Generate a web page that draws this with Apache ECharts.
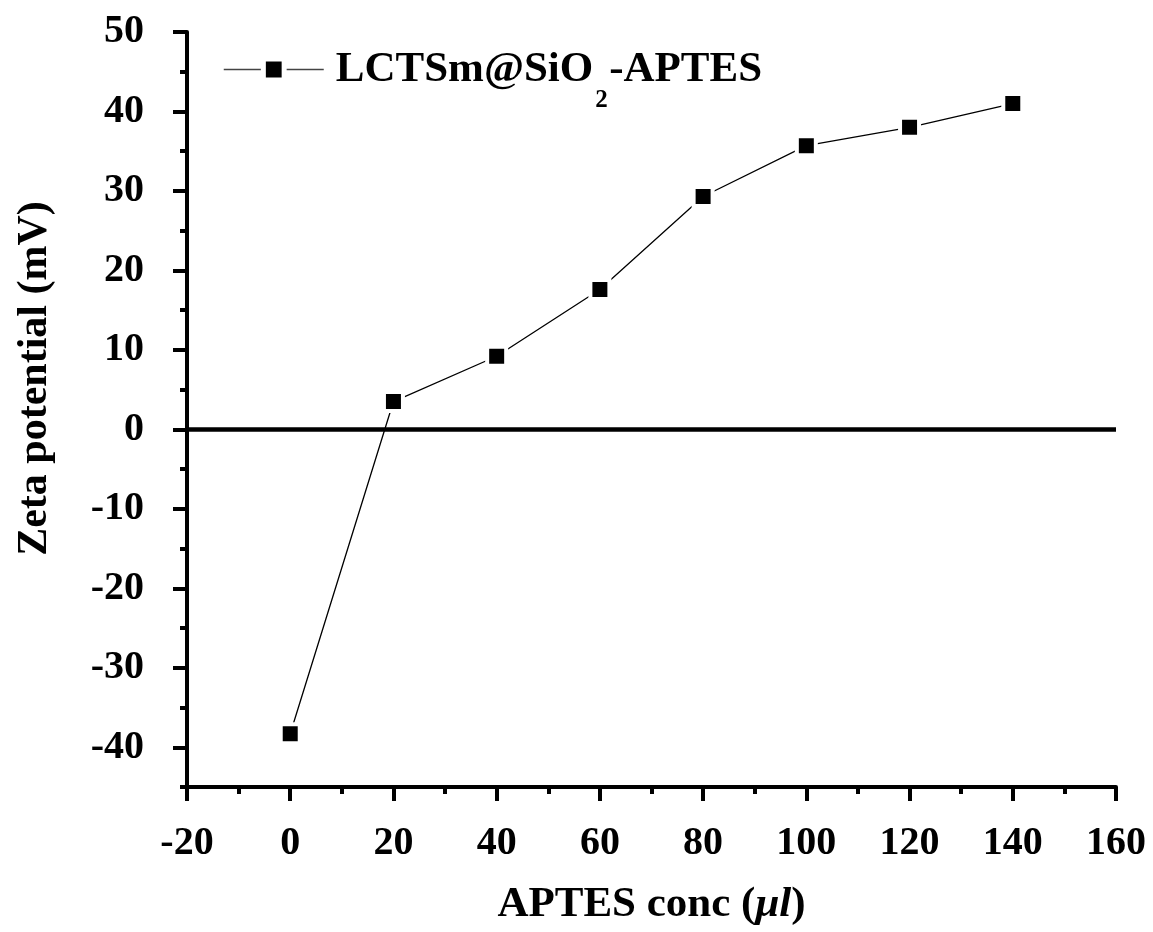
<!DOCTYPE html>
<html>
<head>
<meta charset="utf-8">
<script src="https://cdn.jsdelivr.net/npm/echarts@6/dist/echarts.min.js"></script>
<style>
  html, body { margin: 0; padding: 0; background: #fff; }
  #chart { width: 1153px; height: 932px; }
</style>
</head>
<body>
<div id="chart"></div>
<script>
// APTES concentration (µl) and measured zeta potential (mV)
const aptesConc = [0, 20, 40, 60, 80, 100, 120, 140];
const zetaPotential = [-38.3, 3.5, 9.2, 17.6, 29.3, 35.7, 38.0, 41.0];
const seriesName = 'LCTSm@SiO2-APTES';

// labelled (major) ticks on the potential axis
const yMajorTicks = [-40, -30, -20, -10, 0, 10, 20, 30, 40, 50];

const FONT = '"Liberation Serif", "Times New Roman", serif';
const BLACK = '#000';

const chart = echarts.init(document.getElementById('chart'), null, { renderer: 'canvas' });

const axisLineStyle = { show: true, onZero: false, lineStyle: { color: BLACK, width: 4 } };
const tickFont = { fontFamily: FONT, fontWeight: 'bold', fontSize: 40, color: BLACK };

chart.setOption({
  animation: false,
  backgroundColor: '#fff',
  grid: { left: 187, right: 37, top: 32, bottom: 145, containLabel: false },
  legend: {
    left: 223,
    top: 48,
    padding: 0,
    itemWidth: 100,
    itemHeight: 26,
    data: [seriesName],
    lineStyle: { color: '#444', width: 1.5 },
    itemStyle: { color: BLACK, borderColor: '#fff', borderWidth: 5 },
    formatter: () => '{a|LCTSm@SiO}{s|2}{b|-APTES}',
    textStyle: {
      rich: {
        a: { fontFamily: FONT, fontWeight: 'bold', fontSize: 43, color: BLACK, padding: [0, 0, 0, 7] },
        s: { fontFamily: FONT, fontWeight: 'bold', fontSize: 25, color: BLACK, width: 14, padding: [62, 0, 0, 2] },
        b: { fontFamily: FONT, fontWeight: 'bold', fontSize: 43, color: BLACK }
      }
    }
  },
  xAxis: {
    type: 'value',
    min: -20,
    max: 160,
    interval: 20,
    name: '{t|APTES conc (}{i|μl}{t|)}',
    nameLocation: 'middle',
    nameGap: 96,
    nameTextStyle: {
      rich: {
        t: { fontFamily: FONT, fontWeight: 'bold', fontSize: 43, color: BLACK },
        i: { fontFamily: FONT, fontWeight: 'bold', fontStyle: 'italic', fontSize: 43, color: BLACK }
      }
    },
    axisLine: axisLineStyle,
    axisTick: { show: true, inside: false, length: 14, lineStyle: { color: BLACK, width: 4 } },
    minorTick: { show: true, splitNumber: 2, length: 7, lineStyle: { color: BLACK, width: 4 } },
    splitLine: { show: false },
    axisLabel: Object.assign({ margin: 37 }, tickFont)
  },
  yAxis: [
    {
      // axis line and the short ticks every 5 mV
      type: 'value',
      min: -45,
      max: 50,
      interval: 5,
      axisLine: axisLineStyle,
      axisTick: { show: true, inside: false, length: 7, lineStyle: { color: BLACK, width: 4 } },
      axisLabel: { show: false },
      splitLine: { show: false }
    },
    {
      // long ticks and labels every 10 mV, plus the axis title
      type: 'value',
      min: -45,
      max: 50,
      position: 'left',
      offset: 0,
      name: 'Zeta potential (mV)',
      nameLocation: 'middle',
      nameGap: 131,
      nameRotate: 90,
      nameTextStyle: {
        fontFamily: FONT, fontWeight: 'bold', fontSize: 42, color: BLACK,
        padding: [0, 0, 0, 62]
      },
      axisLine: { show: false, onZero: false },
      axisTick: {
        show: true, inside: false, length: 14,
        customValues: yMajorTicks,
        lineStyle: { color: BLACK, width: 4 }
      },
      axisLabel: Object.assign({ margin: 43, customValues: yMajorTicks }, tickFont),
      splitLine: { show: false }
    }
  ],
  series: [{
    name: seriesName,
    type: 'line',
    xAxisIndex: 0,
    yAxisIndex: 0,
    data: aptesConc.map((x, i) => [x, zetaPotential[i]]),
    symbol: 'rect',
    symbolSize: 19,
    lineStyle: { color: BLACK, width: 1.3 },
    itemStyle: { color: BLACK, borderColor: '#fff', borderWidth: 4 },
    markLine: {
      silent: true,
      symbol: ['none', 'none'],
      label: { show: false },
      lineStyle: { color: BLACK, width: 4.5, type: 'solid' },
      data: [{ yAxis: 0 }]
    }
  }]
});
</script>
</body>
</html>
